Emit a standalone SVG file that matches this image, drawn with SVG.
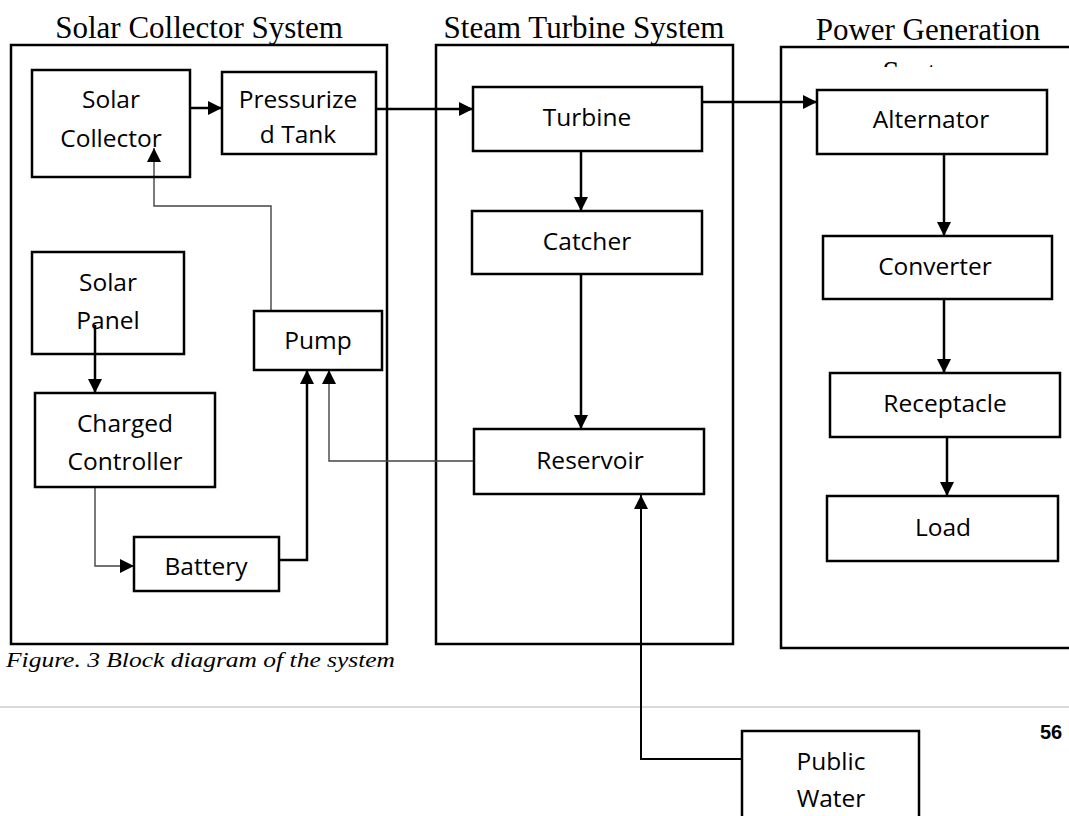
<svg xmlns="http://www.w3.org/2000/svg" width="1069" height="816" viewBox="0 0 1069 816">
<style>
.frame{fill:none;stroke:#000;stroke-width:2.5}
.box{fill:#fff;stroke:#000;stroke-width:2.5}
.t{font-family:"Open Sans","Liberation Sans",sans-serif;font-size:24.5px;fill:#000;text-anchor:middle}
.title{font-family:"Liberation Serif","Times New Roman",serif;font-size:31px;fill:#000;text-anchor:middle}
.thick{fill:none;stroke:#000;stroke-width:2.5}
.med{fill:none;stroke:#000;stroke-width:2}
.thin{fill:none;stroke:#444;stroke-width:1.4}
</style>
<defs>
<marker id="ah" viewBox="0 0 14 14" refX="14" refY="7" markerWidth="14" markerHeight="14" markerUnits="userSpaceOnUse" orient="auto">
<path d="M0,0 L14,7 L0,14 z" fill="#000"/>
</marker>
<clipPath id="clipSys"><rect x="780" y="0" width="289" height="67"/></clipPath>
</defs>
<rect width="1069" height="816" fill="#fff"/>

<g id="solar-collector-system">
<rect class="frame" x="11" y="45" width="376" height="599"/>
<text class="title" x="199" y="38">Solar Collector System</text>
</g>
<g id="steam-turbine-system">
<rect class="frame" x="436" y="45" width="297" height="599"/>
<text class="title" x="584" y="38">Steam Turbine System</text>
</g>
<g id="power-generation-system">
<rect class="frame" x="781" y="47" width="300" height="601"/>
<text class="title" x="928" y="40">Power Generation</text>
<text class="title" x="928" y="83" clip-path="url(#clipSys)">System</text>
</g>

<g id="caption">
<line x1="0" y1="707" x2="1069" y2="707" stroke="#d9d9d9" stroke-width="2"/>
<text x="6" y="667" font-family="'Liberation Serif',serif" font-style="italic" font-size="21" textLength="389" lengthAdjust="spacingAndGlyphs">Figure. 3 Block diagram of the system</text>
<text x="1040" y="739" font-family="'Liberation Sans',sans-serif" font-weight="bold" font-size="20">56</text>
</g>

<g id="connectors">
<path class="thick" d="M190,108 H222" marker-end="url(#ah)"/>
<path class="thick" d="M376,109 H473" marker-end="url(#ah)"/>
<path class="thick" d="M702,102 H817" marker-end="url(#ah)"/>
<path class="thick" d="M581,151 V211" marker-end="url(#ah)"/>
<path class="thick" d="M581,274 V429" marker-end="url(#ah)"/>
<path class="thick" d="M944,154 V236" marker-end="url(#ah)"/>
<path class="thick" d="M944,299 V373" marker-end="url(#ah)"/>
<path class="thick" d="M947,437 V496" marker-end="url(#ah)"/>
<path class="thin" d="M474,461 H329 V370" marker-end="url(#ah)"/>
<path class="med" d="M742,759 H641 V495" marker-end="url(#ah)"/>
<path class="thin" d="M271,311 V206 H154 V148" marker-end="url(#ah)"/>
<path class="thick" d="M95,325 V393" marker-end="url(#ah)"/>
<path class="thin" d="M95,487 V566 H134" marker-end="url(#ah)"/>
<path class="thick" d="M279,560 H307 V370" marker-end="url(#ah)"/>
</g>

<g id="solar-collector">
<rect class="box" x="32" y="70" width="158" height="107" fill-opacity="0"/>
<text class="t" x="111" y="108">Solar</text>
<text class="t" x="111" y="147">Collector</text>
</g>
<g id="pressurized-tank">
<rect class="box" x="222" y="72" width="154" height="82"/>
<text class="t" x="298" y="108">Pressurize</text>
<text class="t" x="298" y="143">d Tank</text>
</g>
<g id="solar-panel">
<rect class="box" x="32" y="252" width="152" height="102" fill-opacity="0"/>
<text class="t" x="108" y="291">Solar</text>
<text class="t" x="108" y="329">Panel</text>
</g>
<g id="charged-controller">
<rect class="box" x="35" y="393" width="180" height="94"/>
<text class="t" x="125" y="432">Charged</text>
<text class="t" x="125" y="470">Controller</text>
</g>
<g id="battery">
<rect class="box" x="134" y="537" width="145" height="54"/>
<text class="t" x="206" y="575">Battery</text>
</g>
<g id="pump">
<rect class="box" x="254" y="311" width="128" height="59"/>
<text class="t" x="318" y="349">Pump</text>
</g>
<g id="turbine">
<rect class="box" x="473" y="87" width="229" height="64"/>
<text class="t" x="587" y="126">Turbine</text>
</g>
<g id="catcher">
<rect class="box" x="472" y="211" width="230" height="63"/>
<text class="t" x="587" y="250">Catcher</text>
</g>
<g id="reservoir">
<rect class="box" x="474" y="429" width="230" height="65"/>
<text class="t" x="590" y="469">Reservoir</text>
</g>
<g id="alternator">
<rect class="box" x="817" y="90" width="230" height="64"/>
<text class="t" x="931" y="128">Alternator</text>
</g>
<g id="converter">
<rect class="box" x="823" y="236" width="229" height="63"/>
<text class="t" x="935" y="275">Converter</text>
</g>
<g id="receptacle">
<rect class="box" x="830" y="373" width="230" height="64"/>
<text class="t" x="945" y="412">Receptacle</text>
</g>
<g id="load">
<rect class="box" x="827" y="496" width="231" height="65"/>
<text class="t" x="943" y="536">Load</text>
</g>
<g id="public-water">
<rect class="box" x="742" y="731" width="177" height="100"/>
<text class="t" x="831" y="770">Public</text>
<text class="t" x="831" y="807">Water</text>
</g>
</svg>
